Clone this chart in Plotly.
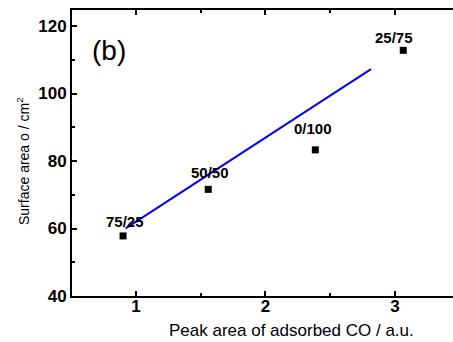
import plotly.graph_objects as go

# Data
peak_area = [0.90, 1.558, 2.385, 3.064]
surface_area = [57.8, 71.6, 83.3, 112.8]
labels = ["75/25", "50/50", "0/100", "25/75"]
label_dx = [2, 2, -2, -9]
label_dy = [14, 16.5, 21, 12.5]

fit_x = [0.92, 2.815]
fit_y = [60.06, 107.2]

x_ticks = [1, 2, 3]
y_ticks = [40, 60, 80, 100, 120]

FONT = "Arial, Liberation Sans, sans-serif"

fig = go.Figure()
fig.add_trace(go.Scatter(x=fit_x, y=fit_y, mode="lines",
                         line=dict(color="#0000FF", width=2), showlegend=False))
fig.add_trace(go.Scatter(x=peak_area, y=surface_area, mode="markers",
                         marker=dict(symbol="square", size=7, color="black"),
                         showlegend=False))

for x, y, t, dx, dy in zip(peak_area, surface_area, labels, label_dx, label_dy):
    fig.add_annotation(x=x, y=y, text="<b>" + t + "</b>", showarrow=False,
                       xshift=dx, yshift=dy,
                       font=dict(family=FONT, size=15, color="black"))

fig.add_annotation(xref="paper", yref="paper", x=0.0984, y=0.860, text="(b)",
                   showarrow=False, xanchor="center", yanchor="middle",
                   font=dict(family=FONT, size=28, color="black"))
fig.add_annotation(xref="paper", yref="paper", x=0.576, y=-0.1189,
                   text="Peak area of adsorbed CO / a.u.", showarrow=False,
                   xanchor="center", yanchor="middle",
                   font=dict(family=FONT, size=17, color="black"))
fig.add_annotation(xref="paper", yref="paper", x=-0.1286, y=0.472,
                   text="Surface area o / cm<sup>2</sup>", showarrow=False,
                   textangle=-90, xanchor="center", yanchor="middle",
                   font=dict(family=FONT, size=14, color="black"))

fig.update_xaxes(range=[0.5058, 3.448], tickvals=x_ticks,
                 ticktext=["<b>%d</b>" % v for v in x_ticks],
                 ticks="inside", ticklen=5, ticklabelstandoff=-6,
                 tickwidth=1.5, tickcolor="black", showline=True, linewidth=2,
                 linecolor="black", mirror="ticks", showgrid=False, zeroline=False,
                 tickfont=dict(family=FONT, size=17, color="black"),
                 minor=dict(tickvals=[1.5, 2.5], ticks="inside", ticklen=3,
                            tickwidth=1.5, tickcolor="black"))
fig.update_yaxes(range=[40, 124.74], tickvals=y_ticks,
                 ticktext=["<b>%d</b>" % v for v in y_ticks],
                 ticks="inside", ticklen=5,
                 tickwidth=1.5, tickcolor="black", showline=True, linewidth=2,
                 linecolor="black", mirror=False, showgrid=False, zeroline=False,
                 tickfont=dict(family=FONT, size=17, color="black"),
                 minor=dict(tickvals=[50, 70, 90, 110], ticks="inside", ticklen=3,
                            tickwidth=1.5, tickcolor="black"))

fig.update_layout(width=453, height=342, margin=dict(l=72, r=0, t=10, b=46),
                  plot_bgcolor="white", paper_bgcolor="white")

fig.write_html("out.html")
